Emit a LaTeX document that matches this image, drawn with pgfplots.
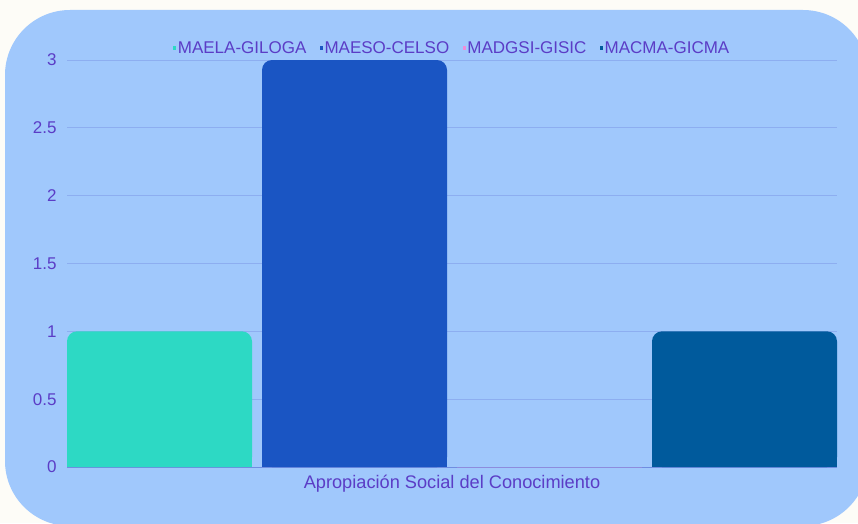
\documentclass[border=0pt]{standalone}
\usepackage{pgfplots}
\pgfplotsset{compat=1.18}
\usepackage{fontspec}
\setmainfont{Liberation Sans}
\definecolor{pagebg}{HTML}{FDFCF7}
\definecolor{panel}{HTML}{A0C8FC}
\definecolor{gridc}{HTML}{8DAEF0}
\definecolor{axisc}{HTML}{6F8DE0}
\definecolor{txt}{HTML}{5B3DC6}
\definecolor{cA}{HTML}{2DD9C4}
\definecolor{cB}{HTML}{1A55C3}
\definecolor{cC}{HTML}{F08CD8}
\definecolor{cD}{HTML}{005A9C}
\pgfplotsset{
  sqleg/.style={legend image code/.code={\fill[sharp corners] (0pt,-1.6pt) rectangle (3.2pt,1.6pt);}},
  common/.style={
    scale only axis, width=770pt, xmin=-1, xmax=1,
    ybar=10pt, bar width=185pt,
    at={(67pt,56pt)}, anchor=south west,
  }
}
\pgfplotstableread{
x y
0 1
}\dataA
\pgfplotstableread{
x y
0 3
}\dataB
\pgfplotstableread{
x y
0 0
}\dataC
\pgfplotstableread{
x y
0 1
}\dataD
\begin{document}
\begin{tikzpicture}[x=1pt,y=1pt]
\useasboundingbox (0,0) rectangle (858,523);
\fill[pagebg] (0,0) rectangle (858,523);
\fill[panel, rounded corners=65pt] (5,-3) rectangle (868,513);
\begin{axis}[common, height=407pt, ymin=0, ymax=3,
  ytick distance=0.5,
  xtick={0}, xticklabels={Apropiación Social del Conocimiento},
  major tick length=0pt,
  axis lines*=left,
  y axis line style={draw=none},
  x axis line style={draw=axisc, line width=1pt},
  ymajorgrids, grid style={gridc, line width=0.9pt},
  /pgf/number format/assume math mode=true,
  tick label style={font=\fontsize{17}{20}\selectfont, text=txt},
  yticklabel style={xshift=-7pt},
  xticklabel style={yshift=-5pt, font=\fontsize{18.2}{22}\selectfont},
  legend style={at={(0.5,1)}, anchor=center, yshift=12pt, draw=none, fill=none,
    font=\fontsize{17}{20}\selectfont, text=txt, legend columns=4,
    nodes={inner xsep=1.5pt, inner ysep=0pt},
    /tikz/every even column/.append style={column sep=12pt}},
]
\addplot[fill=cA, draw=none, rounded corners=10pt, sqleg] table[x=x,y=y] {\dataA};
\addplot[fill=cB, draw=none, rounded corners=10pt, sqleg] table[x=x,y=y] {\dataB};
\addplot[fill=cC, draw=none, sqleg] table[x=x,y=y] {\dataC};
\addplot[fill=cD, draw=none, rounded corners=10pt, sqleg] table[x=x,y=y] {\dataD};
\legend{MAELA-GILOGA, MAESO-CELSO, MADGSI-GISIC, MACMA-GICMA}
\end{axis}
\begin{axis}[common, height=27.1333pt, ymin=0, ymax=0.2, hide axis]
\addplot[fill=cA, draw=none] table[x=x,y=y] {\dataA};
\addplot[fill=cB, draw=none] table[x=x,y=y] {\dataB};
\addplot[fill=cC, draw=none] table[x=x,y=y] {\dataC};
\addplot[fill=cD, draw=none] table[x=x,y=y] {\dataD};
\end{axis}
\end{tikzpicture}
\end{document}
